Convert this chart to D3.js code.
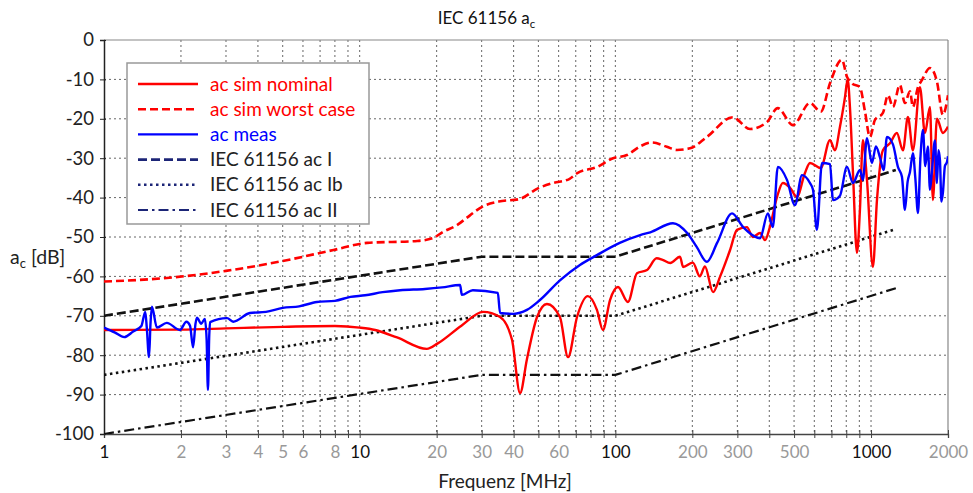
<!DOCTYPE html>
<html>
<head>
<meta charset="utf-8">
<script src="https://cdnjs.cloudflare.com/ajax/libs/d3/7.8.5/d3.min.js"></script>
<style>
  body { margin: 0; background: #fff; }
  text { font-family: Lato, "Open Sans", sans-serif; }
</style>
</head>
<body>
<div id="chart"></div>
<script>
// frequencies in MHz, values in dB
var xTicks = [1, 2, 3, 4, 5, 6, 7, 8, 9, 10, 20, 30, 40, 50, 60, 70, 80, 90, 100,
  200, 300, 400, 500, 600, 700, 800, 900, 1000, 2000];
var xLabels = [1, 2, 3, 4, 5, 6, 8, 10, 20, 30, 40, 60, 100, 200, 300, 500, 1000, 2000];
var xMajor = [1, 10, 100, 1000];
var yTicks = [0, -10, -20, -30, -40, -50, -60, -70, -80, -90, -100];

var simNominalF = [1, 2, 3, 5, 8, 10, 11.5, 14, 18.3, 20.2, 25, 30.4, 35.4, 39.4, 42.4, 45.1, 49.4, 54, 60.7, 65.3, 70.8, 78.1, 84.7, 89.4, 95.3, 102.4, 112, 121.5, 133, 145, 153, 164, 179, 184, 201, 214, 224, 241, 257, 281, 299, 327, 345, 368, 385, 402, 429, 452, 482, 513, 551, 577, 636, 691, 722, 756, 791, 810, 827, 850, 881, 905, 929, 964, 1017, 1055, 1113, 1186, 1262, 1333, 1394, 1458, 1553, 1625, 1700, 1746, 1810, 1910, 2000];
var simNominalDb = [-73.6, -73.5, -73.2, -72.8, -72.6, -73, -73.6, -75.5, -78.4, -77, -72.5, -69, -70.3, -76, -89.6, -81, -70.3, -67, -70.3, -80.5, -70.3, -65, -68.5, -73.6, -66, -62.7, -66.5, -59.2, -58.4, -55.4, -55.8, -56.6, -55, -57.6, -56.5, -60, -57.5, -64, -60, -53.3, -48.2, -47.5, -50, -49, -50.8, -47.5, -39.8, -36.3, -37.5, -39.8, -33.8, -31.2, -32.5, -25.4, -28, -22, -14.5, -10, -17, -33.8, -54, -43, -25.4, -35.5, -57.6, -40.6, -28, -26.2, -23.6, -28, -19.5, -28, -12, -23.6, -17, -40.6, -20, -23.6, -22];

var simWorstF = [1, 1.76, 3.0, 5.0, 7.9, 10.7, 16.8, 19.3, 21.2, 24, 27, 30, 35, 42, 50, 57, 66, 71, 85, 98, 111, 125, 139, 159, 174, 196, 228, 288, 336, 392, 432, 495, 577, 636, 691, 769, 805, 842, 905, 946, 990, 1036, 1113, 1165, 1218, 1297, 1357, 1420, 1458, 1526, 1581, 1700, 1810, 1910, 2000];
var simWorstDb = [-61.3, -60.4, -58.6, -56.1, -53.3, -51.5, -51, -50.3, -48.7, -47, -44.5, -42.4, -41, -40.4, -37.6, -36.3, -35.3, -33.8, -32.2, -30, -29.2, -27, -26, -27.1, -27.9, -27.5, -24.6, -19.6, -22.6, -20.8, -17.3, -21.6, -16, -18.2, -11, -5, -9.3, -11, -12, -18, -24.6, -20.3, -18.5, -14, -17, -11.4, -16, -13, -17, -12, -10.2, -7.1, -10.5, -19, -14];

var measF = [1, 1.1, 1.2, 1.3, 1.4, 1.45, 1.47, 1.5, 1.52, 1.54, 1.61, 1.76, 1.98, 2.1, 2.17, 2.23, 2.28, 2.31, 2.4, 2.48, 2.52, 2.55, 2.58, 2.6, 3.03, 3.2, 3.72, 4.3, 5, 5.8, 6.8, 8, 9.2, 10.5, 12.3, 14.4, 18, 21, 24.7, 25.1, 27.7, 34.7, 35.4, 40, 45.1, 50.7, 60.7, 72.7, 84.7, 104, 125, 137, 168, 191, 208, 228, 250, 286, 316, 368, 395, 413, 432, 469, 504, 537, 577, 593, 614, 643, 691, 710, 756, 805, 850, 905, 929, 964, 1008, 1045, 1083, 1120, 1154, 1218, 1274, 1321, 1357, 1390, 1420, 1458, 1490, 1526, 1560, 1596, 1630, 1669, 1700, 1730, 1778, 1810, 1835, 1860, 1885, 1910, 1945, 1981, 2000];
var measDb = [-73, -74.2, -75.4, -74, -72.6, -69, -73, -80.5, -72, -67.7, -73, -71.8, -73.6, -71.5, -72.5, -78, -72, -70.5, -72, -70.8, -76, -88.8, -75, -71.6, -70.6, -71.5, -69.3, -69, -68, -67.6, -66.5, -66.2, -65.2, -64.8, -64, -63.5, -63.2, -62.8, -62.2, -64.7, -63.5, -64.2, -69.3, -69.5, -68.5, -66, -61, -57.1, -54.6, -51.5, -49.5, -48.8, -46.5, -49, -52.5, -56.3, -51.5, -44, -47.5, -50.3, -44, -47.5, -32.2, -35.5, -41.9, -34.3, -36.3, -38, -48.2, -31.2, -31.5, -40.6, -39.5, -32.2, -36.3, -33, -35.5, -24.9, -31.2, -27, -29.7, -33, -24.6, -26.5, -32.2, -34.7, -43.1, -36, -33.5, -28.7, -35, -43.9, -30, -22.8, -32, -27, -38, -33.5, -25.5, -36.3, -28, -30.5, -41, -38.8, -32, -31, -29.5];

// IEC 61156 limit lines (break points)
var limitF = [1, 30, 100, 1250];
var limitI = [-70, -55, -55, -33];
var limitIb = [-85, -70, -70, -48];
var limitII = [-100, -85, -85, -63];

var series = [
  { name: "ac sim nominal", f: simNominalF, v: simNominalDb, color: "#ff0000", legendColor: "#ff0000", text: "#ff0000", dash: null, w: 2.4, smooth: true },
  { name: "ac sim worst case", f: simWorstF, v: simWorstDb, color: "#ff0000", legendColor: "#ff0000", text: "#ff0000", dash: "8,4", w: 2.6, smooth: true },
  { name: "ac meas", f: measF, v: measDb, color: "#0000ff", legendColor: "#0000ff", text: "#0000ff", dash: null, w: 2.4, smooth: true },
  { name: "IEC 61156 ac I", f: limitF, v: limitI, color: "#111", legendColor: "#1c2577", text: "#222", dash: "9,4", w: 2.6, smooth: false },
  { name: "IEC 61156 ac Ib", f: limitF, v: limitIb, color: "#111", legendColor: "#1c2577", text: "#222", dash: "2.5,3.5", w: 2.6, smooth: false },
  { name: "IEC 61156 ac II", f: limitF, v: limitII, color: "#111", legendColor: "#1c2577", text: "#222", dash: "10,4,2.5,4", w: 2.2, smooth: false }
];

var svgWidth = 973;
var svgHeight = 493;
var margin = { top: 40, right: 25, bottom: 59, left: 104 };
var width = svgWidth - margin.left - margin.right;
var height = svgHeight - margin.top - margin.bottom;

var svg = d3.select("#chart").append("svg")
  .attr("width", svgWidth)
  .attr("height", svgHeight);

var chartGroup = svg.append("g")
  .attr("transform", `translate(${margin.left}, ${margin.top})`);

var x = d3.scaleLog().domain([1, 2000]).range([0, width]);
var y = d3.scaleLinear().domain([-100, 0]).range([height, 0]);

// grid
chartGroup.append("g").selectAll("line")
  .data(xTicks.filter(d => d > 1 && d < 2000))
  .enter().append("line")
  .attr("x1", d => x(d)).attr("x2", d => x(d))
  .attr("y1", 0).attr("y2", height)
  .attr("stroke", "#666").attr("stroke-width", 1)
  .attr("stroke-dasharray", "2,3");

chartGroup.append("g").selectAll("line")
  .data(yTicks.filter(d => d > -100 && d < 0))
  .enter().append("line")
  .attr("x1", 0).attr("x2", width)
  .attr("y1", d => y(d)).attr("y2", d => y(d))
  .attr("stroke", "#666").attr("stroke-width", 1)
  .attr("stroke-dasharray", "2,3");

// frame top / right
chartGroup.append("line").attr("x1", 0).attr("x2", width).attr("y1", 0).attr("y2", 0)
  .attr("stroke", "#888").attr("stroke-width", 1.2);
chartGroup.append("line").attr("x1", width).attr("x2", width).attr("y1", 0).attr("y2", height)
  .attr("stroke", "#888").attr("stroke-width", 1.2);

// axes
var bottomAxis = d3.axisBottom(x)
  .tickValues(xTicks)
  .tickSize(4)
  .tickPadding(8)
  .tickFormat(d => xLabels.indexOf(d) >= 0 ? String(d) : "");

var xAxisG = chartGroup.append("g")
  .attr("transform", `translate(0, ${height})`)
  .call(bottomAxis);
xAxisG.select(".domain").attr("stroke", "#444").attr("stroke-width", 1.3);
xAxisG.selectAll(".tick line").attr("y1", -4).attr("y2", 4).attr("stroke", "#444");
xAxisG.selectAll(".tick text")
  .attr("font-size", 17)
  .attr("font-family", "Lato, sans-serif")
  .attr("fill", d => xMajor.indexOf(d) >= 0 ? "#111" : "#999");

var leftAxis = d3.axisLeft(y).tickValues(yTicks).tickSize(4).tickPadding(6)
  .tickFormat(d => String(d));
var yAxisG = chartGroup.append("g").call(leftAxis);
yAxisG.select(".domain").attr("stroke", "#222").attr("stroke-width", 1.5);
yAxisG.selectAll(".tick line").attr("x2", -4).attr("x1", 2).attr("stroke", "#222");
yAxisG.selectAll(".tick text")
  .attr("font-size", 18.5)
  .attr("font-family", "Lato, sans-serif")
  .attr("fill", "#222");

// curves
var smoothLine = d3.line()
  .x(d => x(d[0]))
  .y(d => y(d[1]))
  .curve(d3.curveMonotoneX);
var straightLine = d3.line()
  .x(d => x(d[0]))
  .y(d => y(d[1]));

chartGroup.append("clipPath").attr("id", "plotclip")
  .append("rect").attr("x", 0).attr("y", 0).attr("width", width).attr("height", height);

var drawOrder = [3, 4, 5, 1, 0, 2];
drawOrder.forEach(function(i) {
  var s = series[i];
  chartGroup.append("path")
    .datum(d3.zip(s.f, s.v))
    .attr("d", s.smooth ? smoothLine : straightLine)
    .attr("clip-path", "url(#plotclip)")
    .attr("fill", "none")
    .attr("stroke", s.color)
    .attr("stroke-width", s.w)
    .attr("stroke-linejoin", "round")
    .attr("stroke-dasharray", s.dash);
});

// legend
var legend = svg.append("g").attr("transform", "translate(127, 63)");
legend.append("rect")
  .attr("width", 242).attr("height", 161)
  .attr("fill", "#fff").attr("stroke", "#999").attr("stroke-width", 1.5);

series.forEach(function(s, i) {
  var yy = 21 + i * 25.2;
  legend.append("line")
    .attr("x1", 11).attr("x2", 71).attr("y1", yy).attr("y2", yy)
    .attr("stroke", s.legendColor).attr("stroke-width", s.w)
    .attr("stroke-dasharray", s.dash);
  legend.append("text")
    .attr("x", 83).attr("y", yy).attr("dy", "0.35em")
    .attr("font-size", 19).attr("fill", s.text)
    .text(s.name);
});

// title and labels
var title = svg.append("text")
  .attr("x", svgWidth / 2).attr("y", 24)
  .attr("text-anchor", "middle")
  .attr("font-size", 17).attr("fill", "#111");
title.append("tspan").text("IEC 61156 a");
title.append("tspan").attr("font-size", 11.5).attr("dy", 4).text("c");

var ylab = svg.append("text")
  .attr("x", 10).attr("y", 264)
  .attr("font-size", 19.5).attr("fill", "#222");
ylab.append("tspan").text("a");
ylab.append("tspan").attr("font-size", 13).attr("dy", 4).text("c");
ylab.append("tspan").attr("dy", -4).text(" [dB]");

svg.append("text")
  .attr("x", 505).attr("y", 488)
  .attr("text-anchor", "middle")
  .attr("font-size", 19).attr("fill", "#222")
  .text("Frequenz [MHz]");
</script>
</body>
</html>
